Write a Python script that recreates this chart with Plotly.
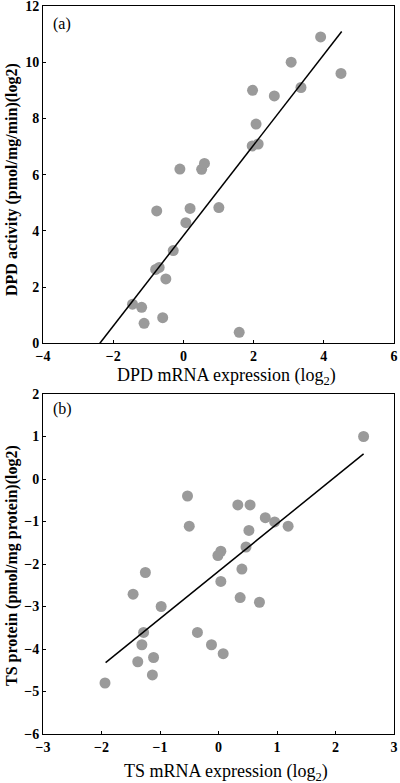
import plotly.graph_objects as go

# Panel (a): DPD
dpd_mrna = [3.91, 3.07, 4.49, 3.35, 1.97, 2.59, 2.07, 1.96, 2.13, -0.10, 0.52, 0.60,
            -0.76, 0.19, 1.01, 0.07, -0.29, -0.69, -0.79, -0.50, -1.45, -1.19, -1.12, -0.59, 1.59]
dpd_activity = [10.9, 10.0, 9.6, 9.1, 9.0, 8.8, 7.8, 7.02, 7.09, 6.2, 6.19, 6.4,
                4.71, 4.8, 4.83, 4.29, 3.3, 2.7, 2.63, 2.29, 1.39, 1.28, 0.71, 0.91, 0.39]
dpd_fit_x = [-2.38, 4.51]
dpd_fit_y = [0.0, 11.09]

# Panel (b): TS
ts_mrna = [2.48, -0.53, -0.50, 0.33, 0.54, 0.80, 0.96, 1.19, 0.52, 0.47, 0.04, -0.01, 0.40, -1.25, 0.04,
           -1.46, 0.37, 0.70, -0.98, -1.28, -0.36, -1.31, -0.12, 0.08, -1.38, -1.11, -1.13, -1.94]
ts_protein = [1.0, -0.40, -1.11, -0.61, -0.61, -0.91, -1.01, -1.11, -1.21, -1.6, -1.70, -1.80, -2.12, -2.2, -2.41,
              -2.71, -2.79, -2.90, -3.0, -3.61, -3.61, -3.90, -3.90, -4.11, -4.30, -4.20, -4.61, -4.80]
ts_fit_x = [-1.93, 2.48]
ts_fit_y = [-4.32, 0.59]

a_xticks = [-4, -2, 0, 2, 4, 6]
a_yticks = [0, 2, 4, 6, 8, 10, 12]
b_xticks = [-3, -2, -1, 0, 1, 2, 3]
b_yticks = [-6, -5, -4, -3, -2, -1, 0, 1, 2]

def lab(v):
    return "<b>" + str(v).replace("-", "\u2212") + "</b>"

marker = dict(color="#9a9a9a", size=11, line=dict(width=0))
line = dict(color="black", width=1.5)

fig = go.Figure()
fig.add_trace(go.Scatter(x=dpd_mrna, y=dpd_activity, mode="markers", marker=marker,
                         xaxis="x", yaxis="y", showlegend=False))
fig.add_trace(go.Scatter(x=dpd_fit_x, y=dpd_fit_y, mode="lines", line=line,
                         xaxis="x", yaxis="y", showlegend=False))
fig.add_trace(go.Scatter(x=ts_mrna, y=ts_protein, mode="markers", marker=marker,
                         xaxis="x2", yaxis="y2", showlegend=False))
fig.add_trace(go.Scatter(x=ts_fit_x, y=ts_fit_y, mode="lines", line=line,
                         xaxis="x2", yaxis="y2", showlegend=False))

SERIF = "Liberation Serif"
tickfont = dict(family=SERIF, size=14, color="black", weight="bold")
common = dict(showline=True, linecolor="black", linewidth=1, mirror=True, ticks="inside",
              ticklen=3, tickcolor="black", showgrid=False, zeroline=False, tickfont=tickfont,
              automargin=False, ticklabeloverflow="allow")

W, H = 400, 783
ML, MR, MT, MB = 43, 6, 6, 49
PW = W - ML - MR
PH = H - MT - MB

def px_x(px):
    return (px - ML) / PW

def px_y(py):
    return (H - MB - py) / PH

a_bottom = 343.3
b_top = 394

def ann(text, x, y, size, angle=0):
    return dict(text=text, xref="paper", yref="paper", x=px_x(x), y=px_y(y),
                xanchor="center", yanchor="middle", showarrow=False, textangle=angle,
                font=dict(family=SERIF, size=size, color="black"))

fig.update_layout(
    width=W, height=H,
    margin=dict(l=ML, r=MR, t=MT, b=MB, autoexpand=False),
    paper_bgcolor="white", plot_bgcolor="white",
    xaxis=dict(domain=[0, 1], anchor="y", range=[-4, 6], tickvals=a_xticks,
               ticktext=[lab(v) for v in a_xticks], **common),
    yaxis=dict(domain=[px_y(a_bottom), 1], anchor="x", range=[0, 12], tickvals=a_yticks,
               ticktext=[lab(v) for v in a_yticks], **common),
    xaxis2=dict(domain=[0, 1], anchor="y2", range=[-3, 3], tickvals=b_xticks,
                ticktext=[lab(v) for v in b_xticks], **common),
    yaxis2=dict(domain=[0, px_y(b_top)], anchor="x2", range=[-6, 2], tickvals=b_yticks,
                ticktext=[lab(v) for v in b_yticks], **common),
    annotations=[
        ann("DPD mRNA expression (log<sub>2</sub>)", 226, 376, 18),
        ann("<b>DPD activity (pmol/mg/min)(log2)</b>", 12, 180, 16, angle=-90),
        ann("TS mRNA expression (log<sub>2</sub>)", 226, 772, 18),
        ann("<b>TS protein (pmol/mg protein)(log2)</b>", 12, 566, 16, angle=-90),
        ann("(a)", 62, 23.5, 16),
        ann("(b)", 62, 409, 16),
    ],
)

fig.write_html("out.html", config={"displayModeBar": False},
               post_script="document.body.style.margin='0';")
